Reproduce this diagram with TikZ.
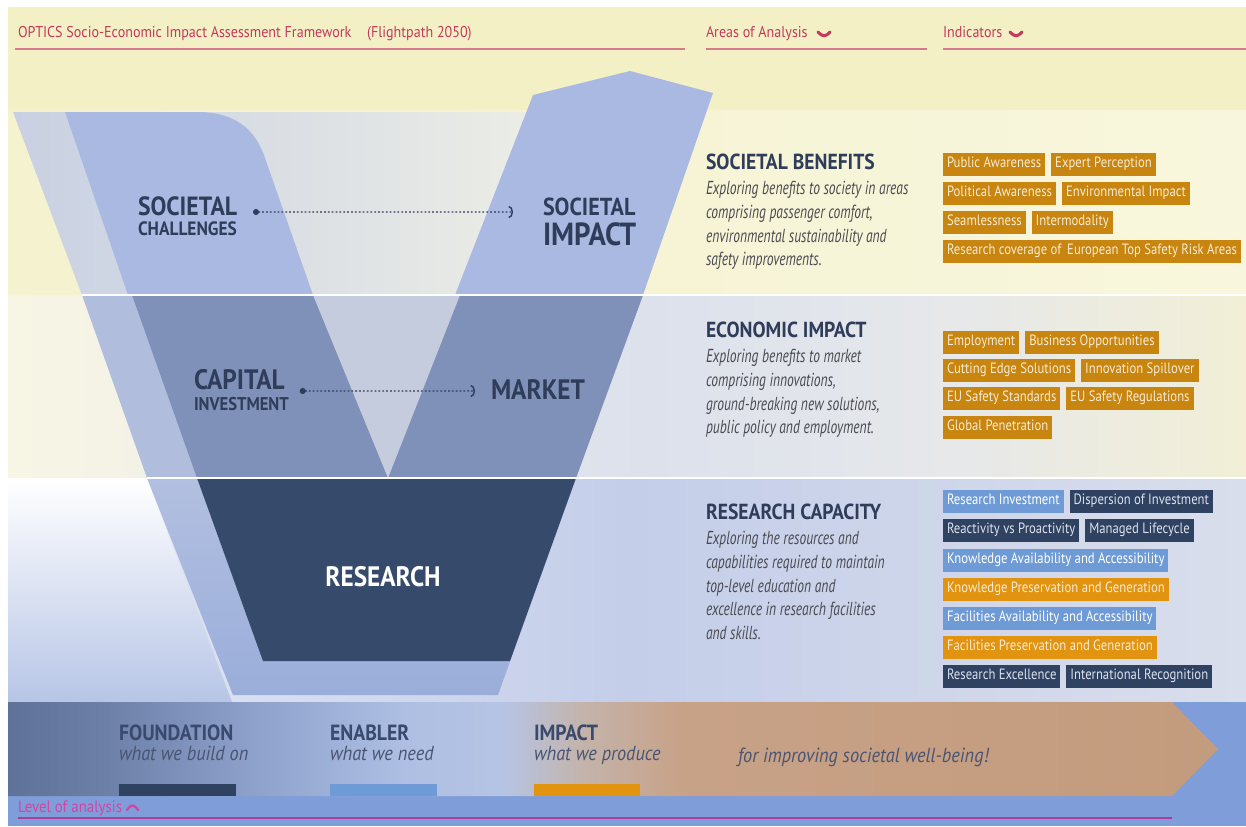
\documentclass[tikz,border=0pt]{standalone}
\usepackage{fontspec}
\setmainfont{PT Sans}[FakeStretch=0.9]
\newfontfamily\narrowfont{PT Sans}[FakeStretch=0.72]
\newfontfamily\tagfont{PT Sans}[FakeStretch=0.85]
\usepackage{tikz}
\usetikzlibrary{positioning,arrows.meta}

% colours
\definecolor{titlered}{HTML}{C23A5C}
\definecolor{rulepink}{HTML}{D47C8E}
\definecolor{cream}{HTML}{F4F0C6}
\definecolor{creamleft}{HTML}{F5F2CF}
\definecolor{creamright}{HTML}{F8F6DC}
\definecolor{slate}{HTML}{2F3C5A}
\definecolor{blurbgrey}{HTML}{4A4A50}
\definecolor{ochre}{HTML}{C8850F}
\definecolor{amber}{HTML}{E2930F}
\definecolor{skyblue}{HTML}{6E9BD6}
\definecolor{navy}{HTML}{2F4262}
\definecolor{tagtext}{HTML}{F7ECD4}
\definecolor{navytext}{HTML}{DCE2EE}
\definecolor{paleleft}{HTML}{C8D0E2}
\definecolor{paleright}{HTML}{ECEDE6}
\definecolor{armblue}{HTML}{AAB9E2}
\definecolor{armdark}{HTML}{7F90B9}
\definecolor{palemid}{HTML}{B0BDDD}
\definecolor{notch}{HTML}{C5CCDD}
\definecolor{palelowtop}{HTML}{B2BFE0}
\definecolor{palelowbot}{HTML}{9AAEDA}
\definecolor{research}{HTML}{364A6C}
\definecolor{baseblue}{HTML}{7F9DD8}
\definecolor{levelpink}{HTML}{D443A6}
\definecolor{levelrule}{HTML}{A93C9E}
\definecolor{legendtext}{HTML}{3A4A6E}
\definecolor{legendsub}{HTML}{4A5473}
\definecolor{resleftbot}{HTML}{B7C5E6}
% band and arrow stops
\definecolor{eca}{HTML}{F7F5E4}
\definecolor{ecb}{HTML}{F5F3E6}
\definecolor{ecc}{HTML}{DCE1EC}
\definecolor{ecd}{HTML}{E6E8EA}
\definecolor{ece}{HTML}{F2EFD6}
\definecolor{rsa}{HTML}{E6EAF3}
\definecolor{rsb}{HTML}{DDE3F1}
\definecolor{rsc}{HTML}{C4CEE9}
\definecolor{rsd}{HTML}{D9DEEC}
\definecolor{ara}{HTML}{5F7399}
\definecolor{arb}{HTML}{6C80A8}
\definecolor{arc}{HTML}{8EA2CC}
\definecolor{ard}{HTML}{AEBFE3}
\definecolor{are}{HTML}{B6C4E4}
\definecolor{arf}{HTML}{C4B3AA}
\definecolor{arg}{HTML}{C8A287}
\definecolor{arh}{HTML}{C39B7D}

\pgfdeclarehorizontalshading{econband}{100bp}{color(0bp)=(eca); color(25bp)=(eca);
  color(29bp)=(ecb); color(50.7bp)=(ecc); color(63bp)=(ecd); color(75bp)=(ece); color(100bp)=(ece)}
\pgfdeclarehorizontalshading{resband}{100bp}{color(0bp)=(rsa); color(25bp)=(rsa);
  color(31bp)=(rsb); color(50bp)=(rsc); color(75bp)=(rsd); color(100bp)=(rsd)}
\pgfdeclarehorizontalshading{flowarrow}{100bp}{color(0bp)=(ara); color(25bp)=(ara);
  color(29.1bp)=(arb); color(35.3bp)=(arc); color(41.4bp)=(ard); color(45.5bp)=(are);
  color(48.8bp)=(arf); color(52.9bp)=(arg); color(75bp)=(arh); color(100bp)=(arh)}

\begin{document}
\begin{tikzpicture}[
    x=0.02cm, y=-0.02cm,
    node distance=0.12cm,
    every node/.style={inner sep=0pt, outer sep=0pt},
    tag/.style={fill=ochre, text=tagtext, font=\tagfont\fontsize{8.5}{9}\selectfont,
        minimum height=0.46cm, inner xsep=0.08cm, text height=6.2pt, text depth=1.8pt},
    ambertag/.style={tag, fill=amber},
    skytag/.style={tag, fill=skyblue, text=white},
    navytag/.style={tag, fill=navy, text=navytext},
    area/.style={font=\bfseries\fontsize{12.4}{12.4}\selectfont, text=slate, anchor=west},
    blurb/.style={font=\narrowfont\itshape\fontsize{10.7}{13.6}\selectfont, text=blurbgrey, align=left},
    vlabel/.style={font=\bfseries, text=slate, anchor=west},
    flow/.style={slate, line width=0.8pt, dash pattern=on 1pt off 1.2pt,
        arrows={Circle[length=3.4pt]-Arc Barb[length=2.4pt, width=7pt]}},
    header/.style={text=titlered, font=\fontsize{8.9}{9}\selectfont, anchor=base west},
    rule/.style={rulepink, line width=1.1pt},
    chev/.style={line width=1.7pt, line cap=round},
    legend/.style={font=\bfseries\fontsize{12.5}{12.5}\selectfont, text=legendtext, anchor=west},
    legendsub/.style={font=\itshape\fontsize{11.6}{12}\selectfont, text=legendsub},
    legendbar/.style={minimum height=0.24cm, anchor=north west}
]
\useasboundingbox (0,0) rectangle (1246,826);

% background bands
\fill[white] (0,0) rectangle (1246,826);
\fill[cream] (8,7) rectangle (1246,110);
\shade[left color=creamleft, right color=creamright] (8,110) rectangle (1246,295);
\shade[shading=econband] (8,295) rectangle (1246,478);
\shade[shading=resband] (8,478) rectangle (1246,702);
\shade[top color=white, bottom color=resleftbot] (8,478) -- (147,478) -- (232,702) -- (8,702) -- cycle;
\fill[baseblue] (8,702) rectangle (1246,826);

% the V: societal band
\shade[left color=paleleft, right color=paleright] (13,112) -- (535,112) -- (455,295) -- (82,295) -- cycle;
\fill[armblue] (65,112) -- (197,112) .. controls (240,112) and (257,134) .. (265,158) -- (313,295) -- (128,295) -- cycle;
\fill[armblue] (533,95) -- (630,71) -- (713,93) -- (643,295) -- (455,295) -- cycle;
% the V: economic band
\fill[palemid] (82,295) -- (643,295) -- (576,478) -- (147,478) -- cycle;
\fill[armdark] (132,295) -- (643,295) -- (576,478) -- (197,478) -- cycle;
\fill[notch] (313,295) -- (460,295) -- (388,478) -- cycle;
% the V: research band
\shade[top color=palelowtop, bottom color=palelowbot] (147,478) -- (576,478) -- (498,695) -- (233,695) -- cycle;
\fill[research] (197,478) -- (576,478) -- (510,661) -- (263,661) -- cycle;
\draw[white, line width=1.2pt] (82,295) -- (1246,295);
\draw[white, line width=1.2pt] (147,478) -- (1246,478);

% header
\node[header] (title) at (18,37) {OPTICS Socio-Economic Impact Assessment Framework\quad(Flightpath 2050)};
\node[header] (areas) at (706,37) {Areas of Analysis};
\node[header] (indicators) at (943,37) {Indicators};
\draw[rule] (15,49) -- (685,49);
\draw[rule] (706,49) -- (927,49);
\draw[rule] (943,49) -- (1246,49);
\draw[chev, titlered] (818,32) .. controls (822,37) and (826,37) .. (830,32);
\draw[chev, titlered] (1010,32) .. controls (1014,37) and (1018,37) .. (1022,32);

% labels in the V
\node[vlabel, font=\bfseries\fontsize{15}{15}\selectfont] (societal) at (138,206) {SOCIETAL};
\node[vlabel, font=\bfseries\fontsize{11}{11}\selectfont, below=0.12cm of societal.south west, anchor=north west] (challenges) {CHALLENGES};
\node[vlabel, font=\bfseries\fontsize{14}{14}\selectfont] (socimpact) at (543,207) {SOCIETAL};
\node[vlabel, font=\bfseries\fontsize{18.2}{18.2}\selectfont, below=0.14cm of socimpact.south west, anchor=north west] (impact) {IMPACT};
\draw[flow] ([xshift=0.32cm, yshift=-0.12cm]societal.east) -- ([xshift=-0.6cm, yshift=-0.1cm]socimpact.west);

\node[vlabel, font=\bfseries\fontsize{16}{16}\selectfont] (capital) at (194,380) {CAPITAL};
\node[vlabel, font=\bfseries\fontsize{10.5}{10.5}\selectfont, below=0.15cm of capital.south west, anchor=north west] (investment) {INVESTMENT};
\node[vlabel, font=\bfseries\fontsize{16}{16}\selectfont] (market) at (491,390) {MARKET};
\draw[flow] ([xshift=0.3cm, yshift=-0.22cm]capital.east) -- ([xshift=-0.32cm, yshift=-0.02cm]market.west);

\node[font=\bfseries\fontsize{16}{16}\selectfont, text=white] (research) at (383,577) {RESEARCH};

% areas of analysis
\node[area] (benefits) at (706,162) {SOCIETAL BENEFITS};
\node[blurb, below=0.22cm of benefits.south west, anchor=north west] (benefitstext)
    {Exploring benefits to society in areas\\comprising passenger comfort,\\environmental sustainability and\\safety improvements.};
\node[area] (economic) at (706,330) {ECONOMIC IMPACT};
\node[blurb, below=0.22cm of economic.south west, anchor=north west] (economictext)
    {Exploring benefits to market\\comprising innovations,\\ground-breaking new solutions,\\public policy and employment.};
\node[area] (capacity) at (706,512) {RESEARCH CAPACITY};
\node[blurb, below=0.22cm of capacity.south west, anchor=north west] (capacitytext)
    {Exploring the resources and\\capabilities required to maintain\\top-level education and\\excellence in research facilities\\and skills.};

% indicators: societal
\node[tag, anchor=west] (public) at (943,164) {Public Awareness};
\node[tag, right=of public] (expert) {Expert Perception};
\node[tag, anchor=west] (political) at (943,193) {Political Awareness};
\node[tag, right=of political] (environ) {Environmental Impact};
\node[tag, anchor=west] (seamless) at (943,222) {Seamlessness};
\node[tag, right=of seamless] (intermodal) {Intermodality};
\node[tag, anchor=west] (coverage) at (943,251) {Research coverage of\ \,European Top Safety Risk Areas};

% indicators: economic
\node[tag, anchor=west] (employment) at (943,342) {Employment};
\node[tag, right=of employment] (business) {Business Opportunities};
\node[tag, anchor=west] (cutting) at (943,370) {Cutting Edge Solutions};
\node[tag, right=of cutting] (spillover) {Innovation Spillover};
\node[tag, anchor=west] (standards) at (943,398) {EU Safety Standards};
\node[tag, right=of standards] (regulations) {EU Safety Regulations};
\node[tag, anchor=west] (global) at (943,427) {Global Penetration};

% indicators: research
\node[skytag, anchor=west] (resinvest) at (943,501) {Research Investment};
\node[navytag, right=of resinvest] (dispersion) {Dispersion of Investment};
\node[navytag, anchor=west] (reactivity) at (943,530) {Reactivity vs Proactivity};
\node[navytag, right=of reactivity] (lifecycle) {Managed Lifecycle};
\node[skytag, anchor=west] (knowavail) at (943,560) {Knowledge Availability and Accessibility};
\node[ambertag, anchor=west] (knowpres) at (943,589) {Knowledge Preservation and Generation};
\node[skytag, anchor=west] (facavail) at (943,618) {Facilities Availability and Accessibility};
\node[ambertag, anchor=west] (facpres) at (943,647) {Facilities Preservation and Generation};
\node[navytag, anchor=west] (excellence) at (943,676) {Research Excellence};
\node[navytag, right=of excellence] (recognition) {International Recognition};

% level of analysis
\shade[shading=flowarrow] (8,702) -- (1172,702) -- (1218,749) -- (1172,796) -- (8,796) -- cycle;
\node[legend] (foundation) at (119,733) {FOUNDATION};
\node[legendsub, below=0.1cm of foundation.south west, anchor=north west] (foundationsub) {what we build on};
\node[legend] (enabler) at (330,733) {ENABLER};
\node[legendsub, below=0.1cm of enabler.south west, anchor=north west] (enablersub) {what we need};
\node[legend] (impactlegend) at (534,733) {IMPACT};
\node[legendsub, below=0.1cm of impactlegend.south west, anchor=north west] (impactsub) {what we produce};
\node[legendsub, anchor=west] (wellbeing) at (738,757) {for improving societal well-being!};
\node[legendbar, fill=navy, minimum width=2.34cm] (foundationbar) at (119,784) {};
\node[legendbar, fill=skyblue, minimum width=2.14cm] (enablerbar) at (330,784) {};
\node[legendbar, fill=amber, minimum width=2.12cm] (impactbar) at (534,784) {};

\node[text=levelpink, font=\fontsize{9.4}{9.4}\selectfont, anchor=west] (level) at (18,808) {Level of analysis};
\draw[chev, levelpink, line width=1.3pt] (127,810) .. controls (131,804) and (134,804) .. (138,810);
\draw[levelrule, line width=1.2pt] (18,818) -- (1172,818);
\end{tikzpicture}
\end{document}
